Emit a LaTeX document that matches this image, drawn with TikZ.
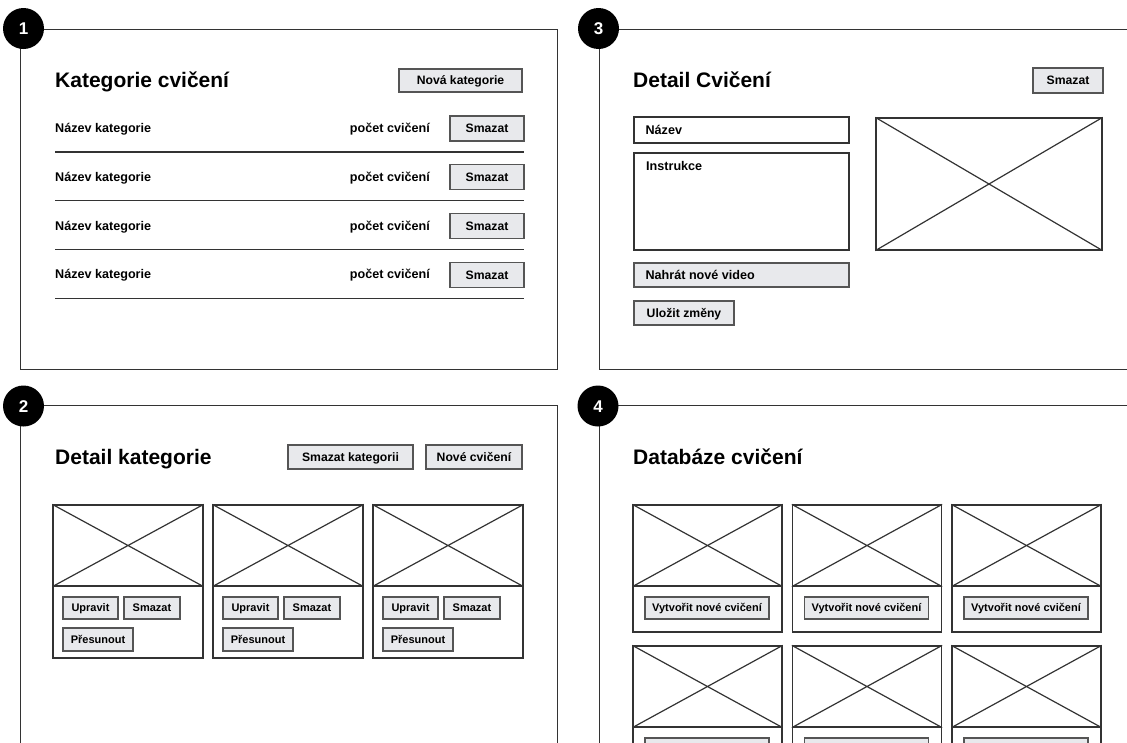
\documentclass[tikz,border=0pt]{standalone}
\usepackage{fontspec}
\setmainfont{Liberation Sans}
\definecolor{framec}{HTML}{333333}
\definecolor{linec}{HTML}{333333}
\definecolor{btnline}{HTML}{555555}
\definecolor{btnfill}{HTML}{E8E9EC}
\newcommand\fTitle{\bfseries\fontsize{21}{24}\selectfont}
\newcommand\fBody{\bfseries\fontsize{12.6}{14}\selectfont}
\newcommand\fBtn{\bfseries\fontsize{12.2}{14}\selectfont}
\newcommand\fSmall{\bfseries\fontsize{11}{13}\selectfont}
\newcommand\fTiny{\bfseries\fontsize{11}{12}\selectfont}
\newcommand\fBadge{\bfseries\fontsize{17}{17}\selectfont}
% \uibox{style}{name}{x1}{y1}{x2}{y2}{text}: a node filling the given rectangle
\newcommand\uibox[7]{%
  \pgfmathsetmacro\uiW{(#5)-(#3)}%
  \pgfmathsetmacro\uiH{(#6)-(#4)}%
  \pgfmathsetmacro\uiX{((#3)+(#5))/2}%
  \pgfmathsetmacro\uiY{((#4)+(#6))/2}%
  \node[#1, minimum width=\uiW pt, minimum height=\uiH pt] (#2) at (\uiX,\uiY) {#7};}
\begin{document}
\begin{tikzpicture}[x=1pt, y=-1pt,
  capcentre/.style={text height=#1, text depth=0pt},
  frame/.style={draw=framec, line width=1.2pt},
  badge/.style={circle, fill=black, text=white, font=\fBadge, minimum size=41pt, inner sep=0pt, capcentre=12.2pt},
  btn/.style={draw=btnline, fill=btnfill, line width=1.2pt, inner sep=0pt, font=\fBtn, capcentre=8.7pt},
  smallbtn/.style={btn, font=\fSmall, capcentre=7.9pt},
  field/.style={draw=linec, fill=white, line width=1.2pt, inner sep=0pt},
  img/.style={draw=linec, line width=1.2pt, inner sep=0pt},
  cardbase/.style={draw=linec, line width=1.2pt, inner sep=0pt},
  title/.style={anchor=west, inner sep=0pt, font=\fTitle, capcentre=15pt},
  lbl/.style={inner sep=0pt, font=\fBody, capcentre=9pt},
  sep/.style={draw=linec, line width=1.2pt}
]
\useasboundingbox (0,0) rectangle (1127,742);
\clip (0,0) rectangle (1127,742);

% ---------- panel frames ----------
\draw[frame] (20.7,29.3) rectangle (557.3,369.5);
\draw[frame] (599.5,29.3) rectangle (1140,369.5);
\draw[frame] (20.7,405.7) rectangle (557.3,760);
\draw[frame] (599.5,405.7) rectangle (1140,760);

\node[badge] (n1) at (23.5,28.5) {1};
\node[badge] (n2) at (23.5,406) {2};
\node[badge] (n3) at (598.5,28.5) {3};
\node[badge] (n4) at (598,406) {4};

% ---------- panel 1: category list ----------
\node[title] (t1) at (55,80) {Kategorie cvičení};
\uibox{btn}{newcat}{399}{69}{522}{92}{Nová kategorie}
\foreach \i in {0,...,3}{
  \pgfmathsetmacro\ry{128+48.8*\i}
  \pgfmathsetmacro\rt{116+48.8*\i}
  \pgfmathsetmacro\rb{141+48.8*\i}
  \pgfmathsetmacro\rs{152+48.8*\i}
  \node[lbl, anchor=west] (cname\i) at (55,\ry) {Název kategorie};
  \node[lbl, anchor=east] (ccount\i) at (430,\ry) {počet cvičení};
  \uibox{btn}{cdel\i}{450}{\rt}{524}{\rb}{Smazat}
  \draw[sep] (55,\rs) -- (524,\rs);
}

% ---------- panel 3: exercise detail ----------
\node[title] (t3) at (633,80) {Detail Cvičení};
\uibox{btn}{exdel}{1033}{68}{1103}{93}{Smazat}
\uibox{field}{fname}{634}{117}{849}{143}{}
\node[lbl, anchor=west] (fnamet) at ([xshift=12pt]fname.west) {Název};
\uibox{field}{finstr}{634}{153}{849}{250}{}
\node[lbl, anchor=west] (finstrt) at (646,166) {Instrukce};
\uibox{img}{video}{876}{118}{1102}{250}{}
\draw[sep] (video.north west) -- (video.south east) (video.north east) -- (video.south west);
\uibox{btn}{upload}{634}{263}{849}{287}{}
\node[lbl, anchor=west] (uploadt) at ([xshift=12pt]upload.west) {Nahrát nové video};
\uibox{btn}{save}{634}{301}{734}{325}{Uložit změny}

% ---------- panel 2: category detail ----------
\node[title] (t2) at (55,457) {Detail kategorie};
\uibox{btn}{catdel}{288}{445}{413}{469}{Smazat kategorii}
\uibox{btn}{newex}{426}{445}{522}{469}{Nové cvičení}
\foreach \L [count=\k] in {53,213,373}{
  \pgfmathsetmacro\R{\L+150}
  \uibox{img}{kimg\k}{\L}{505}{\R}{586}{}
  \draw[sep] (kimg\k.north west) -- (kimg\k.south east) (kimg\k.north east) -- (kimg\k.south west);
  \uibox{cardbase}{kbase\k}{\L}{586}{\R}{658}{}
  \uibox{smallbtn}{kedit\k}{\L+10}{597}{\L+65}{619}{Upravit}
  \uibox{smallbtn}{kdel\k}{\L+71}{597}{\L+127}{619}{Smazat}
  \uibox{smallbtn}{kmove\k}{\L+10}{628}{\L+80}{651}{Přesunout}
}

% ---------- panel 4: exercise database ----------
\node[title] (t4) at (633,457) {Databáze cvičení};
\foreach \L [count=\k] in {633,792.5,952}{
  \pgfmathsetmacro\R{\L+149}
  % first row of cards
  \uibox{img}{dimgA\k}{\L}{505}{\R}{586}{}
  \draw[sep] (dimgA\k.north west) -- (dimgA\k.south east) (dimgA\k.north east) -- (dimgA\k.south west);
  \uibox{cardbase}{dbaseA\k}{\L}{586}{\R}{632}{}
  \uibox{smallbtn, font=\fTiny}{dnewA\k}{\L+12}{597}{\L+136}{619}{Vytvořit nové cvičení}
  % second row, running past the lower edge
  \uibox{img}{dimgB\k}{\L}{646}{\R}{727}{}
  \draw[sep] (dimgB\k.north west) -- (dimgB\k.south east) (dimgB\k.north east) -- (dimgB\k.south west);
  \uibox{cardbase}{dbaseB\k}{\L}{727}{\R}{773}{}
  \uibox{btn}{dnewB\k}{\L+12}{738}{\L+136}{760}{}
}
\end{tikzpicture}
\end{document}
